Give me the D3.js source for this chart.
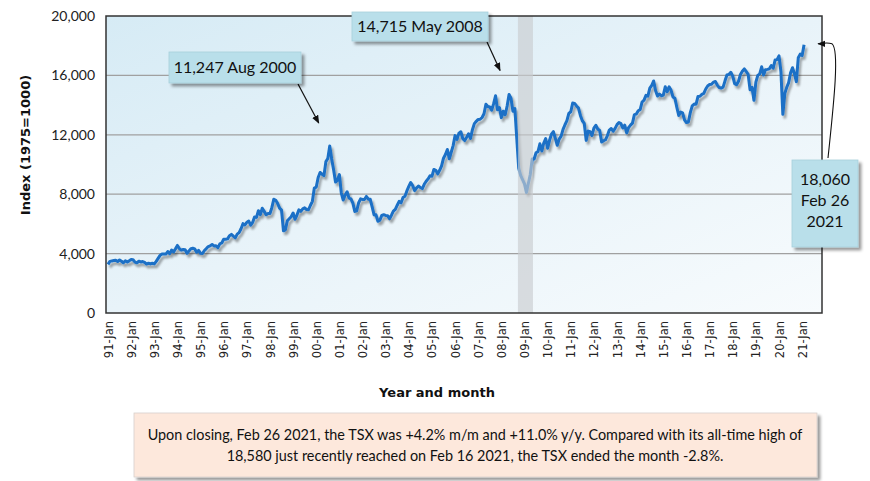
<!DOCTYPE html>
<html><head><meta charset="utf-8">
<script src="https://cdn.jsdelivr.net/npm/d3@7"></script>
<style>
html,body{margin:0;padding:0;background:#fff;}
svg{display:block;}
</style></head>
<body>
<svg id="c" width="870" height="481"></svg>
<script>
// ---- data ----
const startYear = 1991; // first point = Jan 1991, monthly
const tsxValues = [
// 1991
3273,3478,3508,3530,3548,3468,3574,3488,3388,3519,3440,3512,
// 1992
3596,3582,3427,3380,3486,3437,3463,3409,3297,3351,3304,3350,
// 1993
3305,3475,3681,3882,3974,3966,3967,4138,3997,4238,4117,4321,
// 1994
4550,4340,4236,4276,4264,4023,4177,4330,4358,4316,4093,4214,
// 1995
4017,4004,4210,4337,4476,4527,4615,4517,4529,4403,4658,4714,
// 1996
4968,4966,4992,5205,5293,5171,5062,5309,5410,5673,6016,5927,
// 1997
6110,6185,5911,6102,6468,6438,6887,6621,7056,6842,6620,6699,
// 1998
6700,7108,7665,7589,7366,7059,6931,5531,5614,6208,6344,6486,
// 1999
6730,6313,6598,6949,6842,7010,7081,6971,6958,7256,7520,8414,
// 2000
8481,9129,9462,9348,9252,10196,10406,11247,10378,9640,8820,8934,
// 2001
9322,8079,7608,7947,8162,7736,7690,7399,6839,6886,7426,7688,
// 2002
7649,7638,7851,7663,7656,7146,6605,6612,6180,6249,6570,6615,
// 2003
6569,6555,6343,6586,6860,6983,7258,7517,7421,7773,7859,8221,
// 2004
8521,8789,8586,8244,8417,8546,8458,8377,8668,8871,9030,9247,
// 2005
9204,9668,9612,9369,9607,9903,10423,10669,11012,10383,10824,11272,
// 2006
11946,11688,12111,12204,11745,11613,11831,12074,11761,12345,12752,12908,
// 2007
13034,13046,13166,13417,14057,13907,13869,13660,14099,14625,13689,13833,
// 2008
13155,13583,13350,13937,14715,14467,13593,13771,11753,9763,9271,8988,
// 2009
8695,8123,8720,9325,10370,10375,10787,10868,11395,10911,11447,11746,
// 2010
11094,11630,12038,12211,11763,11294,11713,11914,12369,12676,12953,13443,
// 2011
13552,14137,14116,13945,13803,13301,12946,12769,11624,12252,12204,11955,
// 2012
12452,12644,12392,12293,11513,11597,11665,11949,12317,12423,12239,12434,
// 2013
12685,12822,12750,12457,12650,12129,12487,12654,12787,13361,13395,13622,
// 2014
13695,14210,14335,14652,14604,15146,15331,15626,14961,14613,14745,14632,
// 2015
14674,15234,14902,15225,15014,14553,14468,13859,13307,13529,13470,13010,
// 2016
12822,12860,13494,13951,14066,14065,14583,14598,14726,14787,15083,15288,
// 2017
15386,15399,15548,15586,15350,15182,15144,15212,15635,16026,16067,16209,
// 2018
15952,15443,15367,15608,16062,16278,16434,16263,16073,15027,15198,14323,
// 2019
15541,16004,16102,16581,16037,16382,16407,16442,16659,16483,17040,17063,
// 2020
17318,16263,13379,14781,15193,15515,16169,16514,16121,15581,17190,17433,
// 2021
17337,18060
];
const yTicks = [0, 4000, 8000, 12000, 16000, 20000];
const xTickLabels = ["91-Jan","92-Jan","93-Jan","94-Jan","95-Jan","96-Jan","97-Jan","98-Jan","99-Jan","00-Jan",
  "01-Jan","02-Jan","03-Jan","04-Jan","05-Jan","06-Jan","07-Jan","08-Jan","09-Jan","10-Jan",
  "11-Jan","12-Jan","13-Jan","14-Jan","15-Jan","16-Jan","17-Jan","18-Jan","19-Jan","20-Jan","21-Jan"];
const recession = [212.6, 220.4]; // month index (Sep 2008 - May 2009)
const callouts = [
  {lines:["11,247 Aug 2000"]},
  {lines:["14,715 May 2008"]},
  {lines:["18,060","Feb 26","2021"]}
];
const noteLines = [
  "Upon closing, Feb 26 2021, the TSX was +4.2% m/m and +11.0% y/y. Compared with its all-time high of",
  "18,580 just recently reached on Feb 16 2021, the TSX ended the month -2.8%."
];

// ---- chart ----
const svg = d3.select("#c");
const L = 106, R = 822, T = 16, B = 313;
const x = d3.scaleLinear().domain([-1.04, 370.3]).range([L, R]);
const y = d3.scaleLinear().domain([0, 20000]).range([B, T]);

const defs = svg.append("defs");
const bg = defs.append("linearGradient").attr("id","bg").attr("x1","0").attr("y1","0").attr("x2","1").attr("y2","1");
bg.append("stop").attr("offset","0").attr("stop-color","#d6ebf5");
bg.append("stop").attr("offset","0.5").attr("stop-color","#e8f3f9");
bg.append("stop").attr("offset","1").attr("stop-color","#f7fbfd");
const sh = defs.append("filter").attr("id","sh").attr("x","-10%").attr("y","-10%").attr("width","130%").attr("height","130%");
sh.append("feGaussianBlur").attr("in","SourceAlpha").attr("stdDeviation","1.3");
sh.append("feOffset").attr("dx","2").attr("dy","2.5").attr("result","ob");
sh.append("feComponentTransfer").append("feFuncA").attr("type","linear").attr("slope","0.35");
const m1 = sh.append("feMerge"); m1.append("feMergeNode"); m1.append("feMergeNode").attr("in","SourceGraphic");
const bsh = defs.append("filter").attr("id","bsh").attr("x","-10%").attr("y","-10%").attr("width","130%").attr("height","140%");
bsh.append("feGaussianBlur").attr("in","SourceAlpha").attr("stdDeviation","1.5");
bsh.append("feOffset").attr("dx","3").attr("dy","3");
bsh.append("feComponentTransfer").append("feFuncA").attr("type","linear").attr("slope","0.4");
const m2 = bsh.append("feMerge"); m2.append("feMergeNode"); m2.append("feMergeNode").attr("in","SourceGraphic");
defs.append("marker").attr("id","ah").attr("viewBox","0 0 10 10").attr("refX","9").attr("refY","5")
  .attr("markerWidth","7").attr("markerHeight","7").attr("orient","auto")
  .append("path").attr("d","M0,1 L10,5 L0,9 Z").attr("fill","#111");

svg.append("rect").attr("x",L).attr("y",T).attr("width",R-L).attr("height",B-T).attr("fill","url(#bg)");

// gridlines
svg.append("g").selectAll("line").data(yTicks.filter(d=>d>0 && d<20000)).join("line")
  .attr("x1",L).attr("x2",R).attr("y1",d=>y(d)).attr("y2",d=>y(d))
  .attr("stroke","#a0a0a0").attr("stroke-width",1.2);

// line
const line = d3.line().x((d,i)=>x(i)).y(d=>y(d));
svg.append("path").datum(tsxValues).attr("d",line).attr("fill","none")
  .attr("stroke","#1a6fc6").attr("stroke-width",3).attr("stroke-linejoin","round")
  .attr("filter","url(#sh)");

// recession band
svg.append("rect").attr("x",x(recession[0])).attr("y",T).attr("width",x(recession[1])-x(recession[0]))
  .attr("height",B-T).attr("fill","#c9cccf").attr("opacity",0.65);

// frame
svg.append("rect").attr("x",L).attr("y",T).attr("width",R-L).attr("height",B-T)
  .attr("fill","none").attr("stroke","#333").attr("stroke-width",1.5);

// y axis
const yAxis = d3.axisLeft(y).tickValues(yTicks).tickFormat(d3.format(",")).tickSize(0).tickPadding(11);
const gy = svg.append("g").attr("transform",`translate(${L},0)`).call(yAxis);
gy.select(".domain").remove();
gy.selectAll("text").attr("font-family","Lato, 'Open Sans', sans-serif").attr("font-size",14).attr("fill","#222");

// x axis
const xTickVals = xTickLabels.map((d,i)=>i*12);
const xAxis = d3.axisBottom(x).tickValues(xTickVals).tickFormat((d,i)=>xTickLabels[i]).tickSize(0).tickPadding(0);
const gx = svg.append("g").attr("transform",`translate(0,${B})`).call(xAxis);
gx.select(".domain").remove();
gx.selectAll("text").attr("font-family","'DejaVu Sans', sans-serif").attr("font-size",11.5).attr("fill","#222")
  .attr("transform","rotate(-90)").attr("text-anchor","end").attr("dx","-8").attr("dy","0.35em").attr("y",0).attr("x",0);

// axis titles
svg.append("text").attr("transform","translate(30,145) rotate(-90)").attr("text-anchor","middle")
  .attr("font-family","'DejaVu Sans', sans-serif").attr("font-weight","bold").attr("font-size",13).attr("fill","#111")
  .text("Index (1975=1000)");
svg.append("text").attr("x",437).attr("y",397).attr("text-anchor","middle")
  .attr("font-family","'DejaVu Sans', sans-serif").attr("font-weight","bold").attr("font-size",13).attr("fill","#111")
  .text("Year and month");

// callouts
const font = "Lato, 'Open Sans', sans-serif";
function box(bx,by,bw,bh,lines,lh,fy){
  svg.append("rect").attr("x",bx).attr("y",by).attr("width",bw).attr("height",bh)
    .attr("fill","#b9dfea").attr("stroke","#a7cfdb").attr("stroke-width",0.8).attr("filter","url(#bsh)");
  lines.forEach((t,i)=>{
    svg.append("text").attr("x",bx+bw/2).attr("y",fy+i*lh).attr("text-anchor","middle")
      .attr("font-family",font).attr("font-size",16).attr("fill","#111").text(t);
  });
}
// arrows (targets via scales)
const a1 = {x:x(115)-11, y:y(11247)-23};
svg.append("line").attr("x1",298).attr("y1",84).attr("x2",a1.x).attr("y2",a1.y)
  .attr("stroke","#111").attr("stroke-width",1.2).attr("marker-end","url(#ah)");
const a2 = {x:x(208)-9, y:y(14715)-24};
svg.append("line").attr("x1",487).attr("y1",42).attr("x2",a2.x).attr("y2",a2.y)
  .attr("stroke","#111").attr("stroke-width",1.2).attr("marker-end","url(#ah)");
box(169,52,132,31,callouts[0].lines,0,73);
box(352,12,136,29,callouts[1].lines,0,32);
const endX = x(tsxValues.length-1), endY = y(18060);
svg.append("path").attr("d",`M828,158 C833,110 840,50 ${endX+28},${endY-1} C${endX+22},${endY-3} ${endX+18},${endY-1} ${endX+14},${endY-1}`)
  .attr("fill","none").attr("stroke","#111").attr("stroke-width",1.1).attr("marker-end","url(#ah)");
box(792,160,66,87,callouts[2].lines,21,185);

// note
svg.append("rect").attr("x",134).attr("y",413).attr("width",683).attr("height",64)
  .attr("fill","#fde8dc").attr("stroke","#d8d0cc").attr("stroke-width",0.8).attr("filter","url(#bsh)");
noteLines.forEach((t,i)=>{
  svg.append("text").attr("x",475).attr("y",440+i*21).attr("text-anchor","middle")
    .attr("font-family",font).attr("font-size",14.4).attr("fill","#111").text(t);
});
</script>
</body></html>
